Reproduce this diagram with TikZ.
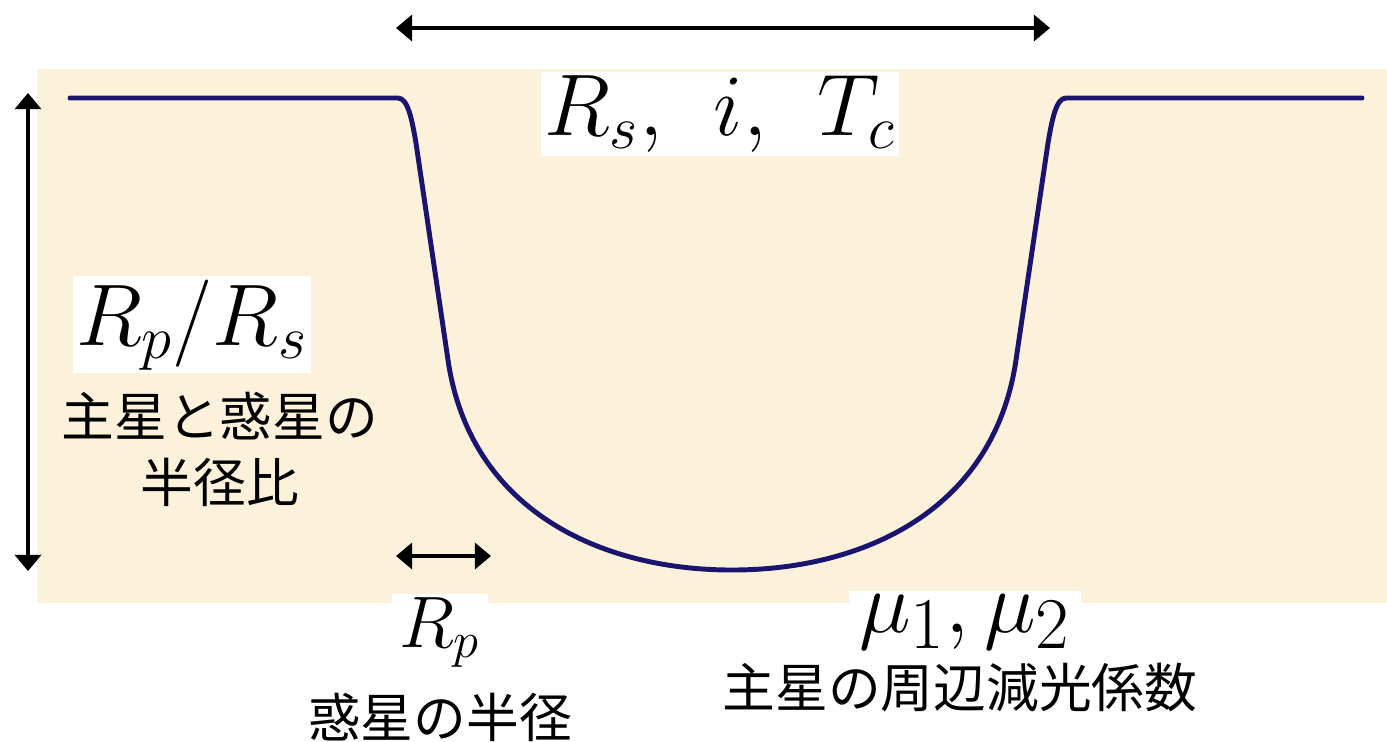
\documentclass[tikz,border=0pt]{standalone}
\usepackage{fontspec}
\newfontfamily\jpfont{Noto Sans CJK JP}
\usepackage{tikz}
\usetikzlibrary{arrows.meta}

\definecolor{paper}{RGB}{252,242,220}
\definecolor{curveblue}{RGB}{26,20,110}

\begin{document}
\begin{tikzpicture}[x=0.01cm, y=-0.01cm, >={Triangle[length=4.6pt, width=7.4pt]}]
  \tikzset{
    mathlbl/.style={fill=white, inner sep=1pt, anchor=base},
    jplbl/.style={inner sep=0pt, font=\jpfont\fontsize{15}{18}\selectfont},
    dimarrow/.style={<->, line width=1.1pt, black}
  }
  \useasboundingbox (0,0) rectangle (1387,741);

  % Background
  \fill[paper] (37,69) rectangle (1387,603);

  % Transit light curve
  \draw[curveblue, line width=1.4pt, line join=round, line cap=round]
    (70,98) -- (398,98) .. controls (408,98) and (412,120) .. (416,143)
    -- (448,360) .. controls (470,510) and (600,570) .. (732,570)
    .. controls (864,570) and (994,510) .. (1016,360)
    -- (1048,143) .. controls (1052,120) and (1056,98) .. (1066,98) -- (1362,98);

  % Arrow end points
  \coordinate (dur-l) at (396,28);
  \coordinate (dur-r) at (1050,28);
  \coordinate (dep-t) at (28,93);
  \coordinate (dep-b) at (28,571);
  \coordinate (rp-l) at (396,556);
  \coordinate (rp-r) at (491,556);

  % Arrows
  \draw[dimarrow] (dur-l) -- (dur-r);
  \draw[dimarrow] (dep-t) -- (dep-b);
  \draw[dimarrow] (rp-l) -- (rp-r);

  % Labels
  \node[mathlbl, font=\fontsize{23}{27}\selectfont] (shape) at (720,135)
    {$R_s,\hspace{0.45em}i,\hspace{0.45em}T_c$};
  \node[mathlbl, font=\fontsize{24}{28}\selectfont] (ratio) at (192,345) {$R_p/R_s$};
  \node[jplbl] (ratio-a) at (220,416) {主星と惑星の};
  \node[jplbl] (ratio-b) at (220,482) {半径比};
  \node[mathlbl, font=\fontsize{20}{24}\selectfont, inner xsep=2pt] (radius) at (440,647) {$R_p$};
  \node[jplbl] (radius-a) at (440,717) {惑星の半径};
  \node[mathlbl, font=\fontsize{28}{32}\selectfont, inner xsep=3pt] (limb) at (965,632) {$\mu_1,\mu_2$};
  \node[jplbl] (limb-a) at (960,688) {主星の周辺減光係数};
\end{tikzpicture}
\end{document}
